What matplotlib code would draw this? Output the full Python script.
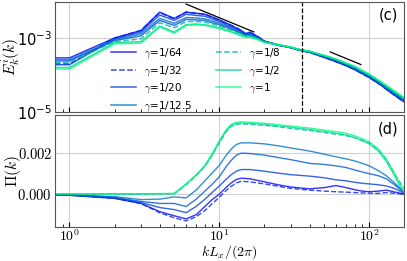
import numpy as np
import matplotlib.pyplot as plt
from matplotlib import cm

plt.rcParams['mathtext.fontset'] = 'cm'
plt.rcParams['font.family'] = 'DejaVu Sans'

# --- spectra E_k^i(k), panel (c) ---
k_E = [0.8, 1, 2, 3, 4, 5, 6, 7, 8, 9, 10, 12, 14, 15, 16, 18, 20, 25, 30, 35,
       40, 50, 60, 70, 80, 100, 120, 140, 170]
E_64 = [2.9e-4, 2.9e-4, 1.0e-3, 1.6e-3, 5.0e-3, 3.4e-3, 5.0e-3, 4.7e-3, 4.4e-3, 3.7e-3,
        3.1e-3, 2.2e-3, 1.6e-3, 1.3e-3, 1.45e-3, 1.1e-3, 8.2e-4, 6.4e-4, 5.5e-4, 4.6e-4,
        4.1e-4, 3.0e-4, 2.3e-4, 1.8e-4, 1.4e-4, 8.6e-5, 5.3e-5, 3.3e-5, 1.9e-5]
E_32 = [2.0e-4, 2.0e-4, 1.0e-3, 1.6e-3, 4.9e-3, 3.3e-3, 5.1e-3, 4.6e-3, 4.5e-3, 3.6e-3,
        3.0e-3, 2.2e-3, 1.6e-3, 1.3e-3, 1.4e-3, 1.1e-3, 8.2e-4, 6.4e-4, 5.5e-4, 4.6e-4,
        4.1e-4, 3.0e-4, 2.3e-4, 1.8e-4, 1.4e-4, 8.6e-5, 5.3e-5, 3.3e-5, 1.9e-5]
E_20 = [1.9e-4, 1.9e-4, 9.5e-4, 1.45e-3, 4.2e-3, 3.0e-3, 4.4e-3, 4.1e-3, 3.9e-3, 3.3e-3,
        2.8e-3, 2.0e-3, 1.5e-3, 1.25e-3, 1.35e-3, 1.05e-3, 8.0e-4, 6.4e-4, 5.5e-4, 4.6e-4,
        4.2e-4, 3.1e-4, 2.4e-4, 1.85e-4, 1.45e-4, 8.9e-5, 5.5e-5, 3.4e-5, 2.0e-5]
E_125 = [2.6e-4, 2.6e-4, 9.0e-4, 1.3e-3, 3.4e-3, 2.5e-3, 3.6e-3, 3.5e-3, 3.3e-3, 2.9e-3,
         2.5e-3, 1.85e-3, 1.4e-3, 1.2e-3, 1.25e-3, 1.0e-3, 7.9e-4, 6.4e-4, 5.6e-4, 4.7e-4,
         4.2e-4, 3.2e-4, 2.5e-4, 1.9e-4, 1.5e-4, 9.2e-5, 5.7e-5, 3.6e-5, 2.1e-5]
E_16 = [2.4e-4, 2.4e-4, 8.5e-4, 1.15e-3, 3.0e-3, 2.2e-3, 3.2e-3, 3.1e-3, 3.0e-3, 2.6e-3,
        2.3e-3, 1.75e-3, 1.35e-3, 1.15e-3, 1.2e-3, 1.0e-3, 7.9e-4, 6.4e-4, 5.6e-4, 4.7e-4,
        4.3e-4, 3.2e-4, 2.5e-4, 1.95e-4, 1.55e-4, 9.5e-5, 5.9e-5, 3.8e-5, 2.2e-5]
E_8 = [2.2e-4, 2.2e-4, 8.0e-4, 9.5e-4, 2.6e-3, 1.9e-3, 2.8e-3, 2.8e-3, 2.7e-3, 2.4e-3,
       2.1e-3, 1.65e-3, 1.3e-3, 1.15e-3, 1.15e-3, 9.8e-4, 7.8e-4, 6.5e-4, 5.6e-4, 4.7e-4,
       4.3e-4, 3.3e-4, 2.6e-4, 2.0e-4, 1.6e-4, 9.8e-5, 6.1e-5, 3.9e-5, 2.3e-5]
E_2 = [1.6e-4, 1.6e-4, 7.5e-4, 8.0e-4, 2.1e-3, 1.45e-3, 2.3e-3, 2.4e-3, 2.3e-3, 2.1e-3,
       1.9e-3, 1.5e-3, 1.2e-3, 1.1e-3, 1.1e-3, 9.4e-4, 7.7e-4, 6.5e-4, 5.7e-4, 4.8e-4,
       4.4e-4, 3.4e-4, 2.7e-4, 2.1e-4, 1.7e-4, 1.03e-4, 6.4e-5, 4.1e-5, 2.4e-5]
E_1 = [1.45e-4, 1.45e-4, 7.0e-4, 7.3e-4, 2.0e-3, 1.35e-3, 2.2e-3, 2.3e-3, 2.2e-3, 2.0e-3,
       1.8e-3, 1.45e-3, 1.15e-3, 1.05e-3, 1.05e-3, 9.2e-4, 7.6e-4, 6.5e-4, 5.7e-4, 4.8e-4,
       4.4e-4, 3.4e-4, 2.7e-4, 2.1e-4, 1.7e-4, 1.06e-4, 6.6e-5, 4.3e-5, 2.5e-5]

# --- fluxes Pi(k), panel (d) ---
k_P = [0.8, 1, 2, 3, 4, 5, 6, 7, 8, 9, 10, 11, 12, 13, 14, 16, 20, 25, 30, 40,
       50, 60, 70, 80, 90, 100, 115, 130, 145, 160, 170]
P_64 = [-3e-5, -5e-5, -2e-4, -4.5e-4, -8.5e-4, -1.05e-3, -1.2e-3, -1.0e-3, -6e-4, -2.5e-4,
        0, 3e-4, 5.5e-4, 7.2e-4, 7.8e-4, 7.5e-4, 6e-4, 4.5e-4, 3.5e-4, 2.6e-4,
        3.2e-4, 4.2e-4, 3.2e-4, 2.2e-4, 1.5e-4, 1.2e-4, 1.5e-4, 2e-4, 1.2e-4, 5e-5, 0]
P_32 = [-3e-5, -5e-5, -2e-4, -4.5e-4, -9e-4, -1.15e-3, -1.3e-3, -1.1e-3, -8e-4, -4.5e-4,
        -1.5e-4, 1.5e-4, 3.8e-4, 5.5e-4, 6.3e-4, 6e-4, 5e-4, 3.8e-4, 2.8e-4, 2e-4,
        1.5e-4, 1.2e-4, 1e-4, 8e-5, 6e-5, 5e-5, 4e-5, 8e-5, 5e-5, 2e-5, 0]
P_20 = [-3e-5, -5e-5, -1.8e-4, -4e-4, -6.5e-4, -7.5e-4, -9e-4, -6e-4, -2.5e-4, 1e-4,
        4e-4, 7e-4, 9.5e-4, 1.12e-3, 1.2e-3, 1.2e-3, 1.12e-3, 1.02e-3, 9.5e-4, 8.8e-4,
        8e-4, 7e-4, 6.5e-4, 5.8e-4, 5.3e-4, 5e-4, 4.6e-4, 4e-4, 3e-4, 1.5e-4, 5e-5]
P_16 = [-2e-5, -4e-5, -1.6e-4, -3.5e-4, -4.5e-4, -4.5e-4, -6e-4, -2.5e-4, 1.5e-4, 5e-4,
        8.5e-4, 1.3e-3, 1.65e-3, 1.9e-3, 2.0e-3, 1.98e-3, 1.9e-3, 1.78e-3, 1.68e-3, 1.5e-3,
        1.45e-3, 1.38e-3, 1.3e-3, 1.18e-3, 1.08e-3, 1.0e-3, 9e-4, 7.5e-4, 5e-4, 2.5e-4, 1e-4]
P_125 = [-1e-5, -2e-5, -1.2e-4, -2.6e-4, -2.4e-4, -1.3e-4, -1.8e-4, 2e-4, 6.5e-4, 1.05e-3,
         1.4e-3, 1.85e-3, 2.2e-3, 2.42e-3, 2.5e-3, 2.5e-3, 2.45e-3, 2.35e-3, 2.25e-3, 2.1e-3,
         1.95e-3, 1.82e-3, 1.72e-3, 1.62e-3, 1.5e-3, 1.38e-3, 1.15e-3, 9e-4, 6e-4, 3e-4, 1e-4]
P_8 = [1e-5, 1e-5, 1e-5, 0, 1e-5, 2e-5, 4.6e-4, 9e-4, 1.35e-3, 1.93e-3,
       2.5e-3, 3.0e-3, 3.3e-3, 3.4e-3, 3.42e-3, 3.4e-3, 3.35e-3, 3.28e-3, 3.2e-3, 3.1e-3,
       3.0e-3, 2.92e-3, 2.85e-3, 2.75e-3, 2.62e-3, 2.5e-3, 2.2e-3, 1.7e-3, 1.1e-3, 6e-4, 3e-4]
P_2 = [1e-5, 1e-5, 1e-5, 1e-5, 2e-5, 3e-5, 4.8e-4, 9.2e-4, 1.37e-3, 1.95e-3,
       2.55e-3, 3.05e-3, 3.35e-3, 3.45e-3, 3.47e-3, 3.45e-3, 3.4e-3, 3.32e-3, 3.26e-3, 3.15e-3,
       3.05e-3, 2.97e-3, 2.88e-3, 2.76e-3, 2.6e-3, 2.45e-3, 2.1e-3, 1.6e-3, 1.0e-3, 4e-4, 1e-4]
P_1 = [2e-5, 2e-5, 2e-5, 2e-5, 3e-5, 4e-5, 5e-4, 9.5e-4, 1.4e-3, 2.0e-3,
       2.6e-3, 3.1e-3, 3.4e-3, 3.5e-3, 3.52e-3, 3.5e-3, 3.45e-3, 3.38e-3, 3.32e-3, 3.22e-3,
       3.12e-3, 3.05e-3, 2.97e-3, 2.85e-3, 2.7e-3, 2.55e-3, 2.2e-3, 1.7e-3, 1.1e-3, 5e-4, 2e-4]

labels = [r'$\gamma$=1/64', r'$\gamma$=1/32', r'$\gamma$=1/20', r'$\gamma$=1/12.5',
          None, r'$\gamma$=1/8', r'$\gamma$=1/2', r'$\gamma$=1']
cpos = [0.0, 0.12, 0.25, 0.45, 0.35, 0.7, 0.85, 1.0]
styles = ['-', '--', '-', '-', '-', '--', '-', '-']
spectra = [E_64, E_32, E_20, E_125, E_16, E_8, E_2, E_1]
fluxes = [P_64, P_32, P_20, P_125, P_16, P_8, P_2, P_1]

fig = plt.figure(figsize=(4.07, 2.61), dpi=100)
ax1 = fig.add_axes([0.135, 0.571, 0.857, 0.421])
ax2 = fig.add_axes([0.135, 0.130, 0.857, 0.429])

for E, P, lab, c, ls in zip(spectra, fluxes, labels, cpos, styles):
    col = cm.winter(c)
    ax1.plot(k_E, E, ls, color=col, lw=1.1, alpha=0.8,
             label=lab if lab else '_nolegend_')
    ax2.plot(k_P, P, ls, color=col, lw=1.0, alpha=0.8)

# reference slopes
ks1 = np.array([6.0, 17.0])
ax1.plot(ks1, 8.3e-3 * (ks1 / 6.0) ** (-5 / 3), 'k-', lw=0.9)
ks2 = np.array([55.0, 88.0])
ax1.plot(ks2, 4.2e-4 * (ks2 / 55.0) ** (-5 / 3), 'k-', lw=0.9)
ax1.axvline(35.7, color='k', ls='--', lw=0.9)

for ax in (ax1, ax2):
    ax.set_xscale('log')
    ax.set_xlim(0.8, 170)
    ax.grid(True, which='major', color='#d0d0d0', lw=0.8)
    ax.tick_params(which='both', direction='in', labelsize=10.5, pad=2,
                   top=False, right=False)
    ax.tick_params(axis='y', which='both', length=0)
    for s in ax.spines.values():
        s.set_color('#555555')

ax1.set_yscale('log')
ax1.set_ylim(1e-5, 9.4e-3)
ax1.set_yticks([1e-5, 1e-3])
ax1.yaxis.set_minor_locator(plt.NullLocator())
ax1.tick_params(axis='x', labelbottom=False)
ax1.set_ylabel(r'$E_k^i(k)$', fontsize=11)
ax1.yaxis.set_label_coords(-0.094, 0.5)
ax1.text(0.985, 0.84, '(c)', transform=ax1.transAxes, ha='right', fontsize=10.5)
ax1.legend(ncol=2, fontsize=7.5, frameon=False, loc='lower left',
           bbox_to_anchor=(0.14, -0.075), handlelength=2.4, handletextpad=0.8,
           labelspacing=0.35, columnspacing=2.2, borderpad=0.2)

ax2.set_ylim(-0.0016, 0.00385)
ax2.set_yticks([0.0, 0.002])
ax2.set_yticklabels(['$0.000$', '$0.002$'])
ax2.set_xticks([1, 10, 100])
ax2.set_xticklabels(['$10^0$', '$10^1$', '$10^2$'])
ax2.tick_params(axis='x', labelsize=10, pad=1)
ax2.set_ylabel(r'$\Pi(k)$', fontsize=11)
ax2.yaxis.set_label_coords(-0.092, 0.5)
ax2.set_xlabel(r'$kL_x/(2\pi)$', fontsize=10)
ax2.xaxis.set_label_coords(0.5, -0.146)
ax2.text(0.985, 0.84, '(d)', transform=ax2.transAxes, ha='right', fontsize=10.5)

fig.savefig('out.png', dpi=100)
